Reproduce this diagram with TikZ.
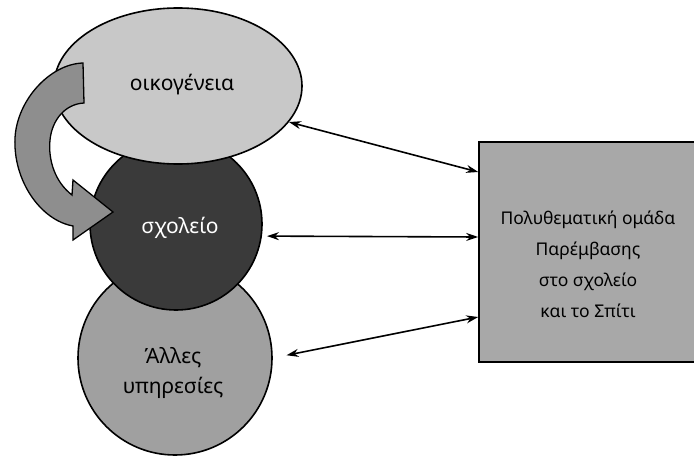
\documentclass[tikz,border=0pt]{standalone}
\usepackage{fontspec}
\setmainfont{Noto Sans}
\usetikzlibrary{shapes.geometric,arrows.meta,calc}
\definecolor{famfill}{HTML}{C8C8C8}
\definecolor{schfill}{HTML}{3A3A3A}
\definecolor{othfill}{HTML}{A0A0A0}
\definecolor{teamfill}{HTML}{A8A8A8}
\definecolor{bendfill}{HTML}{8E8E8E}
\tikzset{
  shapeline/.style={draw=black, line width=1.6pt},
  link/.style={line width=1.6pt, {Stealth[length=12pt,width=8pt]}-{Stealth[length=12pt,width=8pt]}},
  lbl/.style={font=\fontsize{21}{30}\selectfont, align=center},
  teamlbl/.style={font=\fontsize{17.5}{31}\selectfont, align=center}
}
\begin{document}
\begin{tikzpicture}[x=1pt,y=-1pt]
\useasboundingbox (0,0) rectangle (694,460);
% circles and ellipse
\node[circle, shapeline, fill=othfill, minimum size=194pt, inner sep=0pt] (oth) at (175,358) {};
\node[circle, shapeline, fill=schfill, minimum size=172pt, inner sep=0pt] (sch) at (176,224) {};
\node[ellipse, shapeline, fill=famfill, minimum width=248pt, minimum height=156pt, inner sep=0pt] (fam) at (178,86) {};
% labels
\node[lbl] (famtext) at (182,85) {οικογένεια};
\node[lbl, text=white] (schtext) at (180,228) {σχολείο};
\node[lbl] (othtext) at (173,373) {Άλλες\\υπηρεσίες};
% curved block arrow
\draw[draw=black, line width=1.3pt, fill=bendfill, line join=miter]
  (83,63) .. controls (50,64) and (17,100) .. (15,138)
  .. controls (13,180) and (40,220) .. (73,226)
  -- (73,240) -- (113,212) -- (73,180) -- (72,195)
  .. controls (55,182) and (48,160) .. (50,140)
  .. controls (52,120) and (65,104) .. (84,103) -- cycle;
% team box
\node[rectangle, shapeline, fill=teamfill, minimum width=221pt, minimum height=220pt, inner sep=0pt] (team) at (589.5,252) {};
\node[teamlbl] (teamtext) at (588,264) {Πολυθεματική ομάδα\\Παρέμβασης\\στο σχολείο\\και το Σπίτι};
% connectors
\draw[link] (fam.-18.6) -- ([yshift=80pt]team.west);
\draw[link, shorten <=5pt] (sch.-8.7) -- ([yshift=15pt]team.west);
\draw[link, shorten <=14pt] (oth.east) -- ([yshift=-65pt]team.west);
\end{tikzpicture}
\end{document}
